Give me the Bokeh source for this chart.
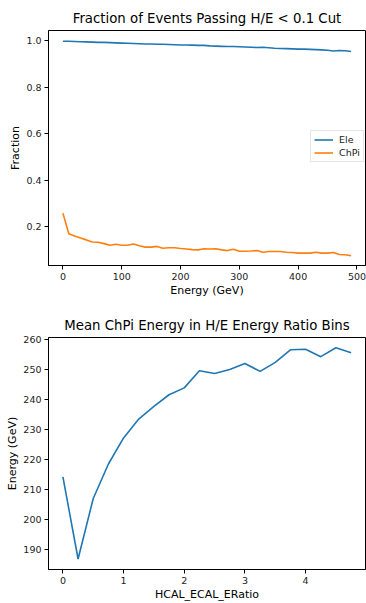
from bokeh.plotting import figure
from bokeh.layouts import column
from bokeh.models import FixedTicker, Legend, LegendItem, Range1d, PrintfTickFormatter
from bokeh.embed import file_html
from bokeh.resources import INLINE

# Fraction of events passing the H/E < 0.1 cut, per 10 GeV energy bin
energy = list(range(0, 500, 10))
ele_frac = [
    0.997, 0.997, 0.996, 0.995, 0.994, 0.993, 0.992, 0.992, 0.991, 0.990,
    0.989, 0.988, 0.987, 0.986, 0.985, 0.985, 0.984, 0.984, 0.983, 0.982,
    0.981, 0.981, 0.980, 0.979, 0.979, 0.977, 0.976, 0.975, 0.974, 0.974,
    0.973, 0.972, 0.971, 0.970, 0.971, 0.969, 0.967, 0.966, 0.965, 0.964,
    0.963, 0.963, 0.962, 0.961, 0.960, 0.958, 0.955, 0.957, 0.956, 0.953,
]
chpi_frac = [
    0.259, 0.170, 0.161, 0.152, 0.144, 0.135, 0.134, 0.128, 0.121, 0.125,
    0.121, 0.121, 0.126, 0.119, 0.113, 0.113, 0.116, 0.108, 0.110, 0.110,
    0.107, 0.105, 0.102, 0.101, 0.106, 0.105, 0.106, 0.101, 0.098, 0.104,
    0.095, 0.095, 0.096, 0.098, 0.091, 0.094, 0.094, 0.094, 0.091, 0.090,
    0.087, 0.087, 0.087, 0.091, 0.087, 0.087, 0.090, 0.081, 0.080, 0.076,
]

# Mean charged-pion energy in bins of the HCAL/ECAL energy ratio
ratio_bins = [0.0, 0.25, 0.5, 0.75, 1.0, 1.25, 1.5, 1.75, 2.0, 2.25,
              2.5, 2.75, 3.0, 3.25, 3.5, 3.75, 4.0, 4.25, 4.5, 4.75]
mean_chpi_energy = [214.2, 186.8, 207.0, 218.5, 227.2, 233.5, 237.7, 241.6, 243.9, 249.6,
                    248.7, 250.0, 252.0, 249.4, 252.4, 256.6, 256.8, 254.3, 257.3, 255.6]

top_xticks = [0, 100, 200, 300, 400, 500]
top_yticks = [0.2, 0.4, 0.6, 0.8, 1.0]
bot_xticks = [0, 1, 2, 3, 4]
bot_yticks = [190, 200, 210, 220, 230, 240, 250, 260]

BLUE = "#1f77b4"
ORANGE = "#ff7f0e"
FONT = "DejaVu Sans"


def style(p, xticks, yticks):
    p.title.text_font = FONT
    p.title.text_font_size = "13.3px"
    p.title.text_font_style = "normal"
    p.title.text_color = "black"
    p.title.align = "center"
    p.outline_line_color = "black"
    p.outline_line_width = 1
    p.xgrid.visible = False
    p.ygrid.visible = False
    p.xaxis.ticker = FixedTicker(ticks=xticks)
    p.yaxis.ticker = FixedTicker(ticks=yticks)
    for ax in (p.xaxis[0], p.yaxis[0]):
        ax.axis_line_color = "black"
        ax.major_tick_line_color = "black"
        ax.major_tick_out = 4
        ax.major_tick_in = 0
        ax.minor_tick_line_color = None
        ax.major_label_text_font = FONT
        ax.major_label_text_font_size = "9.5px"
        ax.major_label_text_color = "#222222"
        ax.major_label_standoff = 3
        ax.axis_label_text_font = FONT
        ax.axis_label_text_font_size = "11px"
        ax.axis_label_text_font_style = "normal"
        ax.axis_label_text_color = "black"
        ax.axis_label_standoff = 1


p1 = figure(width=366, height=302, output_backend="svg", toolbar_location=None,
            title="Fraction of Events Passing H/E < 0.1 Cut",
            x_range=Range1d(-24.5, 514.5), y_range=Range1d(0.034, 1.043),
            min_border_left=48, min_border_right=1, min_border_top=30, min_border_bottom=37)
style(p1, top_xticks, top_yticks)
p1.yaxis.formatter = PrintfTickFormatter(format="%.1f")
p1.xaxis.axis_label = "Energy (GeV)"
p1.yaxis.axis_label = "Fraction"
r_ele = p1.line(energy, ele_frac, line_color=BLUE, line_width=1.6)
r_chpi = p1.line(energy, chpi_frac, line_color=ORANGE, line_width=1.6)

legend = Legend(items=[LegendItem(label="Ele", renderers=[r_ele]),
                       LegendItem(label="ChPi", renderers=[r_chpi])],
                location=(262, 103))
legend.label_text_font = FONT
legend.label_text_font_size = "9.5px"
legend.label_text_color = "#222222"
legend.padding = 3
legend.spacing = 2
legend.margin = 0
legend.glyph_width = 19
legend.glyph_height = 11
legend.label_height = 11
legend.label_standoff = 6
legend.border_line_color = "#cccccc"
legend.background_fill_alpha = 0.8
p1.add_layout(legend, "center")

p2 = figure(width=366, height=301, output_backend="svg", toolbar_location=None,
            title="Mean ChPi Energy in H/E Energy Ratio Bins",
            x_range=Range1d(-0.2375, 4.9875), y_range=Range1d(183.3, 260.7),
            min_border_left=48, min_border_right=1, min_border_top=35, min_border_bottom=29)
style(p2, bot_xticks, bot_yticks)
p2.xaxis.axis_label = "HCAL_ECAL_ERatio"
p2.yaxis.axis_label = "Energy (GeV)"
p2.line(ratio_bins, mean_chpi_energy, line_color=BLUE, line_width=1.6)

layout = column(p1, p2, spacing=0)
open("out.html", "w").write(file_html(layout, INLINE))
